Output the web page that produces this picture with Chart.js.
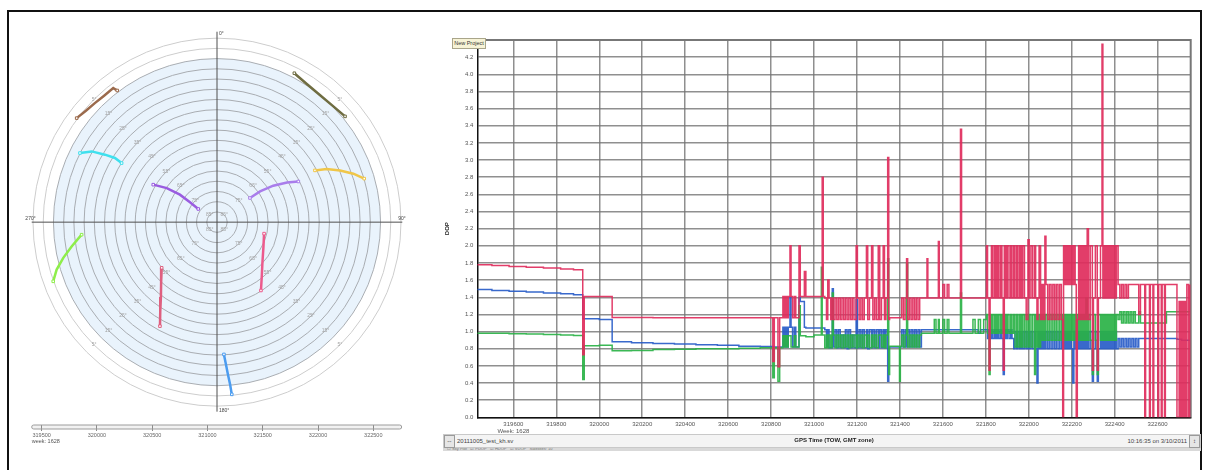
<!DOCTYPE html>
<html>
<head>
<meta charset="utf-8">
<script src="https://cdn.jsdelivr.net/npm/chart.js@4.4.1/dist/chart.umd.min.js"></script>
<style>
  body { margin:0; width:1208px; height:470px; background:#fff; position:relative; overflow:hidden;
         font-family:"Liberation Sans", Arial, sans-serif; }
  canvas { position:absolute; }
  #frame { position:absolute; left:7px; top:10px; width:1191px; height:470px; border:2px solid #111; border-bottom:none; }
  #sky { left:0; top:0; }
  #slider { left:20px; top:418px; }
  #dop { left:440px; top:30px; z-index:3; }
  #badge { position:absolute; left:452px; top:38px; width:32px; height:9px; background:#f7f3d6; border:1px solid #a9a58a;
           font-size:5.5px; line-height:9px; text-align:center; color:#333; white-space:nowrap; z-index:4; }
  #status { position:absolute; left:443px; top:434px; width:756px; height:12px; background:#f4f4f4; border:1px solid #c9c9c9;
            font-size:6px; color:#444; z-index:1; }
  #status span { position:absolute; top:3px; }
  #status .btn { top:0; width:9px; height:11px; border:1px solid #9a9a9a; background:#e6e6e6; text-align:center; line-height:11px; }
  #strip { position:absolute; left:443px; top:447px; width:758px; height:4px; background:#d9d9d9; font-size:4px;
           line-height:4px; color:#777; padding-left:4px; box-sizing:border-box; }
</style>
</head>
<body>
<div id="frame"></div>
<canvas id="sky" width="440" height="420"></canvas>
<canvas id="slider" width="400" height="34"></canvas>
<div id="status">
  <span class="btn" style="left:0">&#8660;</span>
  <span style="left:13px">20111005_test_kh.sv</span>
  <span style="right:13px">10:16:35 on 3/10/2011</span>
  <span class="btn" style="right:0">&#8597;</span>
</div>
<div id="strip">&#9744; Sky Plot &nbsp; &#9745; PDOP &nbsp; &#9745; HDOP &nbsp; &#9745; VDOP &nbsp; Satellites: 10</div>
<canvas id="dop" width="760" height="420"></canvas>
<div id="badge">New Project</div>

<script>
Chart.defaults.font.family = '"Liberation Sans", Arial, sans-serif';

const gpsWeek = 1628;
const sliderTicks = [319500, 320000, 320500, 321000, 321500, 322000, 322500];

// ---- sky plot: satellite tracks (azimuth / elevation in degrees) ----
const trackAz = [
  [306.6, 310.4, 314.3, 318.3, 322.3, 322.9],
  [27.4, 33.1, 38.9, 44.7, 50.4],
  [296.8, 299.5, 301.1, 302.2, 301.8],
  [300.5, 304.2, 306.6, 306.3, 305.2],
  [53.7, 54.4, 57.0, 60.4, 63.4],
  [62.1, 64.1, 67.2, 70.4, 73.5],
  [264.7, 260.5, 256.9, 253.5, 250.1],
  [230.4, 222.7, 216.8, 212.4, 208.7],
  [103.7, 118.8, 131.3, 140.6, 147.3],
  [177.0, 176.4, 175.9, 175.4, 175.1]
];
const trackEl = [
  [4.5, 5.8, 6.5, 7.0, 7.0, 9.1],
  [7.8, 9.3, 9.9, 9.7, 8.7],
  [14.9, 19.6, 26.0, 31.0, 35.1],
  [53.8, 60.3, 67.4, 73.6, 78.8],
  [70.0, 64.1, 57.2, 50.6, 45.5],
  [35.8, 30.4, 24.7, 19.2, 14.9],
  [23.5, 17.9, 12.8, 8.2, 4.8],
  [54.9, 49.7, 44.2, 38.2, 31.9],
  [66.3, 64.1, 60.4, 55.5, 50.2],
  [25.1, 20.1, 15.2, 10.3, 5.3]
];
const trackColors = ['#9b6a4c', '#6f6d42', '#3fe0ee', '#9a5ce0', '#a97deb',
                     '#f0c648', '#8eee4a', '#df5f7f', '#ec5a8c', '#4b9cf0'];

const maskAngle = 10;
const ringElevations = [85, 80, 75, 70, 65, 60, 55, 50, 45, 40, 35, 30, 25, 20, 15, 10, 5, 0];
const ringLabels = [85, 75, 65, 55, 45, 35, 25, 15, 5];
const labelAzimuths = [45, 135, 225, 315];

// ---- DOP time series (GPS time of week, seconds) ----
const gpsTime = [
  319432, 319500, 319580, 319660, 319740, 319820, 319880, 319923, 319930, 320000,
  320060, 320150, 320250, 320350, 320450, 320550, 320650, 320750, 320808, 320815, 320832, 320840,
  320855, 320862, 320868, 320874, 320880, 320888, 320893, 320900, 320908, 320915,
  320930, 320936, 320955, 320962, 321000, 321034, 321038, 321043,
  321050, 321058, 321064, 321070, 321078, 321085, 321090, 321098, 321106, 321114,
  321122, 321130, 321138, 321146, 321154, 321162, 321170, 321178, 321186, 321196,
  321202, 321210, 321218, 321226, 321234, 321244, 321250, 321258, 321268, 321274,
  321282, 321290, 321299, 321306, 321314, 321322, 321328, 321335,
  321343, 321348, 321352, 321398, 321402, 321408, 321416, 321424, 321431, 321436,
  321444, 321452, 321460, 321468, 321476, 321484, 321492,
  321500, 321526, 321530, 321560, 321568, 321579, 321583, 321600, 321608, 321620,
  321628, 321682, 321687, 321740, 321750, 321765, 321775, 321790,
  321803, 321808, 321815, 321820, 321826, 321832, 321840, 321846, 321853, 321860,
  321868, 321875, 321881, 321886, 321893, 321900, 321908, 321916, 321922,
  321930, 321936, 321944, 321950, 321958, 321965, 321972, 321980, 321988, 321996,
  322002, 322010, 322018, 322027, 322032, 322038, 322043, 322048,
  322055, 322062, 322069, 322075, 322080, 322088, 322096, 322104, 322112, 322120,
  322128, 322136, 322144, 322152,
  322158, 322162, 322168, 322174, 322180, 322186, 322192, 322198, 322205, 322210, 322216, 322221,
  322226, 322232, 322238, 322245, 322252, 322259, 322266, 322272, 322278, 322286,
  322296, 322301, 322310, 322319, 322324, 322334, 322341, 322345,
  322352, 322359, 322366, 322373, 322380, 322387, 322394, 322401, 322408,
  322416, 322424, 322432, 322440, 322448, 322456, 322464, 322472, 322480, 322488,
  322496, 322504, 322512, 322520,
  322533, 322540, 322544, 322562, 322566, 322578, 322582, 322601, 322605, 322617,
  322621, 322632, 322636, 322641, 322690, 322700, 322706, 322712, 322718, 322724,
  322730, 322736, 322744, 322750
];
const pdop = [
  1.78, 1.77, 1.76, 1.75, 1.74, 1.73, 1.72, 0.73, 1.41, 1.41,
  1.165, 1.165, 1.16, 1.16, 1.16, 1.16, 1.16, 1.16, 0.65, 1.16, 0.59, 1.16,
  1.41, 1.16, 1.41, 1.16, 1.41, 2.0, 1.41, 1.16, 1.41, 1.16,
  2.0, 1.41, 1.7, 1.41, 1.41, 1.41, 2.8, 1.41,
  1.39, 1.14, 1.6, 1.39, 1.14, 1.39, 1.14, 1.39, 1.14, 1.39,
  1.14, 1.39, 1.14, 1.39, 1.14, 1.39, 1.14, 1.39, 1.14, 2.0,
  1.39, 1.14, 1.39, 1.14, 1.39, 2.0, 1.14, 1.39, 2.0, 1.14,
  1.39, 1.14, 2.0, 1.14, 1.39, 2.0, 1.14, 1.39,
  3.03, 1.14, 1.16, 1.16, 1.16, 1.39, 1.14, 1.39, 1.85, 1.14,
  1.39, 1.14, 1.39, 1.14, 1.39, 1.14, 1.39,
  1.39, 1.85, 1.39, 1.39, 1.39, 2.05, 1.39, 1.55, 1.39, 1.55,
  1.39, 3.36, 1.39, 1.39, 1.39, 1.39, 1.39, 1.39,
  2.0, 1.39, 0.55, 1.39, 2.0, 1.39, 2.0, 1.39, 2.0, 1.39,
  2.0, 1.39, 0.55, 2.0, 1.39, 2.0, 1.39, 2.0, 1.39,
  2.0, 1.39, 2.0, 1.39, 2.0, 1.39, 2.0, 1.39, 1.14, 2.07,
  1.39, 2.0, 1.39, 2.0, 1.39, 1.14, 1.39, 2.0,
  1.14, 1.55, 1.14, 2.11, 1.55, 1.14, 1.55, 1.14, 1.55, 1.14,
  1.55, 1.14, 1.55, 1.14,
  0.0, 2.0, 1.55, 2.0, 1.55, 2.0, 1.55, 2.0, 1.55, 2.0, 1.55, 0.0,
  1.14, 2.0, 1.14, 2.0, 1.14, 2.0, 1.14, 2.2, 1.14, 2.0,
  0.55, 1.39, 2.0, 0.55, 1.39, 2.0, 4.35, 1.39,
  2.0, 1.39, 2.0, 1.39, 2.0, 1.39, 2.0, 1.39, 2.0,
  1.55, 1.39, 1.55, 1.39, 1.55, 1.39, 1.55, 1.55, 1.55, 1.55,
  1.55, 1.55, 1.2, 1.55,
  1.55, 0.0, 1.55, 0.0, 1.55, 0.0, 1.55, 0.0, 1.55, 0.0,
  1.55, 0.0, 1.55, 1.55, 0.0, 1.35, 0.0, 1.35, 0.0, 1.35,
  0.0, 1.55, 0.0, 1.55
];
const hdop = [
  0.98, 0.98, 0.975, 0.97, 0.965, 0.96, 0.955, 0.44, 0.835, 0.84,
  0.775, 0.78, 0.79, 0.795, 0.80, 0.80, 0.805, 0.81, 0.46, 0.81, 0.42, 0.81,
  0.95, 0.82, 0.95, 0.82, 0.95, 0.95, 0.82, 0.82, 0.95, 0.82,
  1.3, 0.95, 0.95, 0.94, 0.96, 1.75, 0.96, 0.96,
  0.81, 0.96, 0.81, 0.96, 0.81, 1.45, 0.96, 0.81, 0.96, 0.82,
  0.96, 0.81, 0.96, 0.82, 0.96, 0.81, 0.96, 0.82, 0.96, 0.81,
  0.96, 0.82, 0.96, 0.81, 0.96, 0.82, 0.96, 0.81, 0.96, 0.82,
  0.96, 0.81, 0.96, 0.96, 0.82, 0.96, 0.81, 0.96,
  1.85, 0.5, 0.83, 0.42, 0.83, 0.96, 0.82, 0.96, 1.8, 0.82,
  0.96, 0.82, 0.96, 0.82, 0.96, 0.82, 0.96,
  0.98, 0.98, 0.98, 1.14, 0.98, 1.14, 0.98, 1.14, 0.98, 1.14,
  0.98, 1.45, 0.98, 1.14, 0.98, 1.14, 0.98, 1.14,
  1.2, 0.98, 0.5, 1.2, 0.98, 1.2, 0.98, 1.2, 0.98, 1.2,
  0.98, 1.2, 0.98, 1.2, 0.98, 1.2, 0.98, 1.2, 0.98,
  1.2, 0.82, 1.2, 0.82, 1.2, 0.82, 1.2, 0.82, 1.2, 0.82,
  1.2, 0.82, 1.2, 0.5, 1.2, 0.82, 1.2, 0.82,
  1.2, 0.9, 1.2, 0.9, 1.2, 0.9, 1.2, 0.9, 1.2, 0.9,
  1.2, 0.9, 1.2, 0.9,
  1.2, 0.9, 1.2, 0.9, 1.2, 0.9, 1.2, 0.9, 1.2, 0.9, 1.2, 0.9,
  1.2, 0.9, 1.2, 0.9, 1.2, 0.9, 1.39, 0.9, 1.2, 0.9,
  0.5, 1.2, 0.9, 0.5, 1.2, 0.9, 1.2, 0.9,
  1.2, 0.9, 1.2, 0.9, 1.2, 0.9, 1.2, 0.9, 1.2,
  1.14, 1.23, 1.1, 1.23, 1.1, 1.23, 1.1, 1.23, 1.1, 1.23,
  1.1, 1.1, 1.23, 1.1,
  1.1, 1.1, 1.1, 1.1, 1.1, 1.1, 1.1, 1.1, 1.1, 1.1,
  1.1, 1.1, 1.1, 1.23, 1.23, 1.23, 1.23, 1.23, 1.23, 1.23,
  1.23, 1.23, 1.23, 1.23
];
const vdop = [
  1.49, 1.48, 1.47, 1.46, 1.45, 1.44, 1.43, 1.15, 1.15, 1.14,
  0.88, 0.87, 0.86, 0.855, 0.845, 0.84, 0.83, 0.825, 0.82, 0.82, 0.82, 0.82,
  1.05, 0.82, 1.05, 0.82, 1.05, 1.4, 1.05, 0.82, 1.05, 0.82,
  1.4, 1.35, 1.05, 1.04, 1.04, 1.04, 1.04, 1.04,
  1.02, 0.82, 1.02, 0.81, 0.81, 1.5, 0.82, 1.02, 0.81, 1.02,
  0.81, 0.96, 0.81, 1.02, 0.80, 1.02, 0.81, 0.96, 0.81, 1.37,
  0.81, 1.02, 0.81, 1.02, 0.81, 1.02, 0.80, 1.02, 0.81, 1.02,
  0.81, 1.02, 0.81, 1.02, 0.81, 1.02, 0.81, 1.02,
  0.42, 0.82, 0.82, 0.82, 0.82, 1.02, 0.82, 1.02, 0.82, 1.02,
  0.82, 1.02, 0.82, 1.02, 0.82, 1.02, 0.82,
  1.02, 1.02, 1.02, 1.02, 1.02, 1.02, 1.02, 1.02, 1.02, 1.02,
  1.02, 1.02, 1.02, 1.02, 1.02, 0.98, 1.02, 1.02,
  1.02, 0.92, 1.02, 0.92, 1.02, 0.92, 1.02, 0.92, 1.02, 0.92,
  1.02, 0.92, 0.5, 1.02, 0.92, 1.02, 0.92, 1.02, 0.92,
  0.80, 1.0, 0.80, 1.0, 0.80, 1.0, 0.80, 1.0, 0.80, 1.0,
  0.80, 1.0, 0.80, 1.0, 0.80, 0.4, 1.0, 0.80,
  1.0, 0.80, 1.0, 0.80, 1.0, 0.80, 1.0, 0.80, 1.0, 0.80,
  1.0, 0.80, 1.0, 0.80,
  1.0, 0.80, 1.0, 0.80, 1.0, 0.80, 1.0, 0.80, 0.4, 1.0, 0.80, 1.0,
  0.80, 1.0, 0.80, 1.0, 0.80, 1.0, 0.80, 1.0, 0.80, 1.0,
  0.42, 0.8, 1.0, 0.42, 0.8, 1.0, 0.8, 1.0,
  0.8, 1.0, 0.8, 1.0, 0.8, 1.0, 0.8, 1.0, 0.8,
  0.92, 0.82, 0.92, 0.82, 0.92, 0.82, 0.92, 0.82, 0.92, 0.82,
  0.92, 0.82, 0.92, 0.92,
  0.92, 0.92, 0.92, 0.92, 0.92, 0.92, 0.92, 0.92, 0.92, 0.92,
  0.92, 0.92, 0.92, 0.92, 0.91, 0.91, 0.91, 0.9, 0.9, 0.9,
  0.9, 0.9, 0.9, 0.9
];

// ---------------- sky plot ----------------
function toXY(az, el) {
  const r = (90 - el) / 90, a = az * Math.PI / 180;
  return { x: r * Math.sin(a), y: r * Math.cos(a) };
}

const skyGrid = {
  id: 'skyGrid',
  beforeDatasetsDraw(chart) {
    const { ctx, scales: { x, y } } = chart;
    const cx = x.getPixelForValue(0), cy = y.getPixelForValue(0);
    const unit = x.getPixelForValue(1) - cx;
    const rad = el => unit * (90 - el) / 90;
    ctx.save();
    // visible part of the sky (above the mask angle)
    ctx.fillStyle = '#e9f3fc';
    ctx.beginPath(); ctx.arc(cx, cy, rad(maskAngle), 0, Math.PI * 2); ctx.fill();
    ctx.lineWidth = 1;
    ringElevations.forEach(el => {
      ctx.strokeStyle = el < maskAngle ? '#cdcdcd' : '#a9adb2';
      ctx.beginPath(); ctx.arc(cx, cy, rad(el), 0, Math.PI * 2); ctx.stroke();
    });
    ctx.strokeStyle = '#4f4f4f';
    ctx.beginPath();
    ctx.moveTo(cx, cy - unit * 1.035); ctx.lineTo(cx, cy + unit * 1.03);
    ctx.moveTo(cx - unit * 1.007, cy); ctx.lineTo(cx + unit * 1.007, cy);
    ctx.stroke();
    // elevation labels along the diagonals
    ctx.fillStyle = '#a3a3a3';
    ctx.font = '5px "Liberation Sans"';
    ctx.textAlign = 'center'; ctx.textBaseline = 'middle';
    ringLabels.forEach(el => {
      labelAzimuths.forEach(az => {
        const a = az * Math.PI / 180;
        ctx.fillText(el + '°', cx + rad(el) * Math.sin(a), cy - rad(el) * Math.cos(a));
      });
    });
    // azimuth labels at the ends of the cross
    ctx.fillStyle = '#444';
    ctx.textAlign = 'left';
    ctx.fillText('0°', cx + 2, cy - unit * 1.035 + 2);
    ctx.fillText('180°', cx + 2, cy + unit * 1.03 - 1);
    ctx.fillText('90°', cx + unit * 1.007 - 4, cy - 4);
    ctx.textAlign = 'right';
    ctx.fillText('270°', cx - unit * 1.007 + 4, cy - 4);
    ctx.restore();
  }
};

const endPoint = c => (c.dataIndex === 0 || c.dataIndex === c.dataset.data.length - 1) ? 1.8 : 0;

new Chart(document.getElementById('sky'), {
  type: 'scatter',
  data: {
    datasets: trackAz.map((azs, i) => ({
      data: azs.map((az, j) => toXY(az, trackEl[i][j])),
      showLine: true,
      borderColor: trackColors[i],
      borderWidth: 2.5,
      pointRadius: endPoint,
      pointStyle: 'rect',
      pointBackgroundColor: '#fff',
      pointBorderColor: trackColors[i],
      pointBorderWidth: 1
    }))
  },
  options: {
    responsive: false,
    animation: false,
    layout: { padding: { left: 23.8, top: 29.3, right: 29.8, bottom: 4.3 } },
    plugins: { legend: { display: false }, tooltip: { enabled: false } },
    scales: {
      x: { display: false, min: -1.05, max: 1.05 },
      y: { display: false, min: -1.05, max: 1.05 }
    }
  },
  plugins: [skyGrid]
});

// time slider under the sky plot
const sliderBar = {
  id: 'sliderBar',
  beforeDraw(chart) {
    const { ctx, chartArea: a } = chart;
    ctx.save();
    ctx.fillStyle = '#f2f2f2';
    ctx.beginPath(); ctx.roundRect(a.left, a.top, a.right - a.left, a.bottom - a.top, 2); ctx.fill();
    ctx.restore();
  },
  afterDraw(chart) {
    const { ctx, chartArea: a } = chart;
    ctx.save();
    ctx.strokeStyle = '#9c9c9c';
    ctx.lineWidth = 1;
    ctx.beginPath(); ctx.roundRect(a.left, a.top, a.right - a.left, a.bottom - a.top, 2); ctx.stroke();
    ctx.restore();
  }
};

new Chart(document.getElementById('slider'), {
  type: 'scatter',
  data: { datasets: [] },
  options: {
    responsive: false,
    animation: false,
    layout: { padding: { left: 11.7, right: 18.3, top: 7, bottom: 0 } },
    plugins: { legend: { display: false }, tooltip: { enabled: false } },
    scales: {
      x: {
        min: 319410, max: 322757,
        afterFit: s => { s.height = 23; },
        afterBuildTicks: s => { s.ticks = sliderTicks.map(v => ({ value: v })); },
        ticks: { autoSkip: false, maxRotation: 0, padding: 1, color: '#666', font: { size: 5.5 },
                 callback: v => String(v) },
        grid: { color: '#8a8a8a', tickLength: 2 },
        border: { display: false },
        title: { display: true, text: 'week: ' + gpsWeek, align: 'start', color: '#555',
                 font: { size: 5.5 }, padding: { top: 0, bottom: 7.7 } }
      },
      y: { display: false, min: 0, max: 1 }
    }
  },
  plugins: [sliderBar]
});

// ---------------- DOP over time ----------------
const plotFrame = {
  id: 'plotFrame',
  beforeDatasetsDraw(chart) {
    const { ctx, chartArea: a } = chart;
    ctx.save();
    ctx.strokeStyle = '#777';
    ctx.lineWidth = 2;
    ctx.beginPath();
    ctx.moveTo(a.left, a.top); ctx.lineTo(a.right, a.top); ctx.lineTo(a.right, a.bottom);
    ctx.stroke();
    ctx.restore();
  }
};

const dopSeries = [
  { label: 'PDOP', values: pdop, color: 'rgba(224,44,92,0.92)' },
  { label: 'HDOP', values: hdop, color: 'rgba(42,178,70,0.92)' },
  { label: 'VDOP', values: vdop, color: 'rgba(40,92,200,0.92)' }
];

const gridStyle = { color: 'rgba(115,115,115,0.8)', lineWidth: 1.5, drawTicks: false };

new Chart(document.getElementById('dop'), {
  type: 'line',
  data: {
    datasets: dopSeries.map(s => ({
      label: s.label,
      data: gpsTime.map((t, i) => ({ x: t, y: s.values[i] })),
      borderColor: s.color,
      borderWidth: 1.5,
      pointRadius: 0,
      stepped: true,
      fill: false
    }))
  },
  options: {
    responsive: false,
    animation: false,
    layout: { padding: { left: 0, top: 10, right: 9.3, bottom: 0 } },
    plugins: { legend: { display: false }, tooltip: { enabled: false } },
    scales: {
      x: {
        type: 'linear', min: 319432, max: 322754,
        afterFit: s => { s.height = 32.7; },
        ticks: {
          stepSize: 200, includeBounds: false, autoSkip: false, maxRotation: 0,
          padding: 3, color: '#555', font: { size: 6 },
          callback: v => v === 319600 ? [String(v), 'Week: ' + gpsWeek] : String(v)
        },
        grid: gridStyle,
        border: { color: '#111', width: 1.5 },
        title: { display: true, text: 'GPS Time (TOW, GMT zone)', color: '#222',
                 font: { size: 6, weight: 'bold' }, padding: { top: 0, bottom: 6.4 } }
      },
      y: {
        min: 0, max: 4.4,
        afterFit: s => { s.width = 37.3; },
        ticks: { stepSize: 0.2, padding: 4, color: '#555', font: { size: 6 },
                 callback: v => v.toFixed(1) },
        grid: gridStyle,
        border: { color: '#111', width: 1.5 },
        title: { display: true, text: 'DOP', color: '#222',
                 font: { size: 6, weight: 'bold' }, padding: { top: 3.4, bottom: 0 } }
      }
    }
  },
  plugins: [plotFrame]
});
</script>
</body>
</html>
